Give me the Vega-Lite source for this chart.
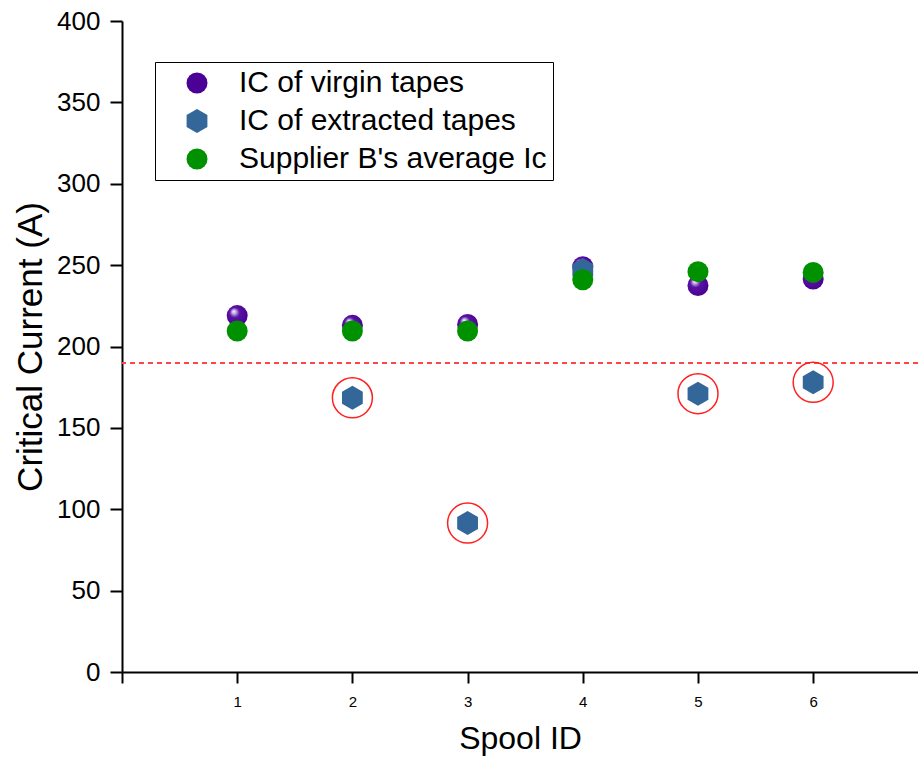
{
  "$schema": "https://vega.github.io/schema/vega-lite/v6.json",
  "width": 796,
  "height": 651,
  "autosize": "none",
  "padding": {"left": 122, "top": 21, "right": 0, "bottom": 89},
  "background": "white",
  "config": {
    "view": {"stroke": null},
    "font": "Liberation Sans",
    "axis": {
      "grid": false,
      "domainColor": "black",
      "domainWidth": 2,
      "tickColor": "black",
      "tickWidth": 2,
      "labelColor": "black",
      "titleColor": "black",
      "labelFont": "Liberation Sans",
      "titleFont": "Liberation Sans",
      "titleFontWeight": "normal"
    }
  },
  "data": {
    "values": [
      {"spool": 1, "series": "IC of virgin tapes", "ic": 219, "flagged": false},
      {"spool": 2, "series": "IC of virgin tapes", "ic": 213, "flagged": false},
      {"spool": 3, "series": "IC of virgin tapes", "ic": 213.5, "flagged": false},
      {"spool": 4, "series": "IC of virgin tapes", "ic": 249, "flagged": false},
      {"spool": 5, "series": "IC of virgin tapes", "ic": 237.5, "flagged": false},
      {"spool": 6, "series": "IC of virgin tapes", "ic": 241.5, "flagged": false},
      {"spool": 2, "series": "IC of extracted tapes", "ic": 168.5, "flagged": true},
      {"spool": 3, "series": "IC of extracted tapes", "ic": 91.5, "flagged": true},
      {"spool": 4, "series": "IC of extracted tapes", "ic": 247, "flagged": false},
      {"spool": 5, "series": "IC of extracted tapes", "ic": 171, "flagged": true},
      {"spool": 6, "series": "IC of extracted tapes", "ic": 178, "flagged": true},
      {"spool": 1, "series": "Supplier B's average Ic", "ic": 209.5, "flagged": false},
      {"spool": 2, "series": "Supplier B's average Ic", "ic": 209.5, "flagged": false},
      {"spool": 3, "series": "Supplier B's average Ic", "ic": 209.5, "flagged": false},
      {"spool": 4, "series": "Supplier B's average Ic", "ic": 241, "flagged": false},
      {"spool": 5, "series": "Supplier B's average Ic", "ic": 246, "flagged": false},
      {"spool": 6, "series": "Supplier B's average Ic", "ic": 245.5, "flagged": false}
    ]
  },
  "encoding": {
    "x": {
      "field": "spool",
      "type": "quantitative",
      "scale": {"domain": [0, 6.91], "nice": false, "zero": false},
      "axis": {
        "title": "Spool ID",
        "values": [0, 1, 2, 3, 4, 5, 6],
        "labelExpr": "datum.value == 0 ? '' : datum.label",
        "tickSize": 11,
        "labelFontSize": 15,
        "labelPadding": 11,
        "titleFontSize": 32,
        "titlePadding": 14
      }
    },
    "y": {
      "field": "ic",
      "type": "quantitative",
      "scale": {"domain": [0, 400], "nice": false},
      "axis": {
        "title": "Critical Current (A)",
        "values": [0, 50, 100, 150, 200, 250, 300, 350, 400],
        "tickSize": 12,
        "labelFontSize": 26,
        "labelPadding": 10,
        "titleFontSize": 35,
        "titlePadding": 8
      }
    }
  },
  "layer": [
    {
      "mark": {"type": "rule", "color": "#FF4545", "strokeDash": [5, 4], "strokeWidth": 1.5},
      "encoding": {"y": {"datum": 190}, "x": null}
    },
    {
      "transform": [{"filter": "datum.series == 'IC of virgin tapes'"}],
      "mark": {
        "type": "point",
        "shape": "circle",
        "filled": true,
        "size": 441,
        "opacity": 1,
        "fill": {
          "gradient": "radial",
          "x1": 0.33, "y1": 0.3, "r1": 0,
          "x2": 0.45, "y2": 0.45, "r2": 0.6,
          "stops": [
            {"offset": 0, "color": "#ffffff"},
            {"offset": 0.15, "color": "#c8b0e6"},
            {"offset": 0.4, "color": "#5a12a4"},
            {"offset": 1, "color": "#46008e"}
          ]
        }
      }
    },
    {
      "transform": [{"filter": "datum.series != 'IC of virgin tapes'"}],
      "mark": {"type": "point", "filled": true, "opacity": 1, "size": 441},
      "encoding": {
        "color": {
          "field": "series",
          "type": "nominal",
          "scale": {
            "domain": ["IC of virgin tapes", "IC of extracted tapes", "Supplier B's average Ic"],
            "range": ["#4B0096", "#336699", "#009100"]
          },
          "legend": {
            "title": null,
            "orient": "none",
            "legendX": 33,
            "legendY": 41,
            "strokeColor": "black",
            "padding": 6,
            "labelFontSize": 30,
            "labelFont": "Liberation Sans",
            "labelColor": "black",
            "labelLimit": 500,
            "labelOffset": 27,
            "symbolOffset": 21,
            "symbolSize": 441,
            "rowPadding": 8,
            "symbolOpacity": 1,
            "symbolStrokeWidth": 0
          }
        },
        "shape": {
          "field": "series",
          "type": "nominal",
          "scale": {
            "domain": ["IC of virgin tapes", "IC of extracted tapes", "Supplier B's average Ic"],
            "range": ["circle", "M0,-1.14L0.99,-0.57L0.99,0.57L0,1.14L-0.99,0.57L-0.99,-0.57Z", "circle"]
          }
        }
      }
    },
    {
      "transform": [{"filter": "datum.flagged"}],
      "mark": {"type": "point", "shape": "circle", "filled": false, "size": 1600, "stroke": "#FF2020", "strokeWidth": 1.5, "opacity": 1}
    }
  ]
}
